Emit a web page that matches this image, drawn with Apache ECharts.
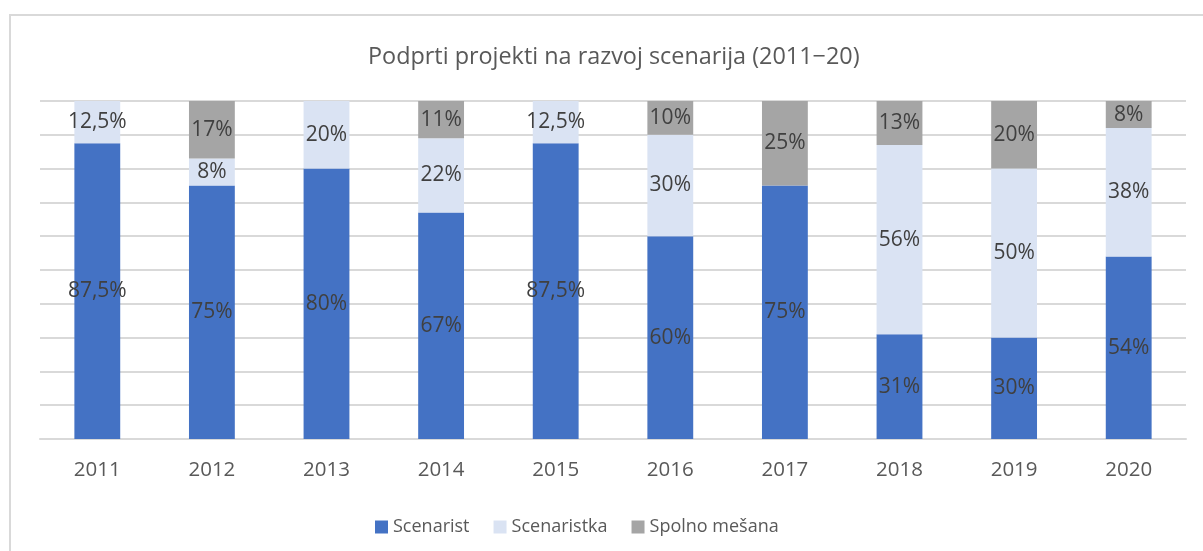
<!DOCTYPE html>
<html><head><meta charset="utf-8">
<script src="https://cdn.jsdelivr.net/npm/echarts@6/dist/echarts.min.js"></script>
<style>html,body{margin:0;padding:0;background:#fff;}#c{width:1203px;height:551px;}</style>
</head><body><div id="c"></div>
<script>
const title = 'Podprti projekti na razvoj scenarija (2011\u221220)';
const years = ['2011','2012','2013','2014','2015','2016','2017','2018','2019','2020'];
const scenarist = [87.5, 75, 80, 67, 87.5, 60, 75, 31, 30, 54];
const scenaristka = [12.5, 8, 20, 22, 12.5, 30, 0, 56, 50, 38];
const spolnoMesana = [0, 17, 0, 11, 0, 10, 25, 13, 20, 8];
const seriesNames = ['Scenarist', 'Scenaristka', 'Spolno mešana'];
const colors = ['#4472C4', '#DAE3F3', '#A5A5A5'];
const FONT = 'Open Sans';

const lbl = {
  show: true, position: 'inside', color: '#404040', fontFamily: FONT, fontSize: 21,
  formatter: p => p.value ? String(p.value).replace('.', ',') + '%' : ''
};
const chart = echarts.init(document.getElementById('c'));
chart.setOption({
  animation: false,
  color: colors,
  title: { text: title, left: 363, top: 41,
    textStyle: { fontFamily: FONT, fontSize: 23.4, fontWeight: 'normal', color: '#595959' } },
  graphic: [{ type: 'rect', shape: { x: 10, y: 15, width: 1300, height: 700 }, style: { fill: 'none', stroke: '#d9d9d9', lineWidth: 2 }, silent: true }],
  legend: { bottom: 10, left: 370, itemWidth: 13, itemHeight: 13, itemGap: 24, icon: 'rect',
    textStyle: { fontFamily: FONT, fontSize: 18, color: '#595959' }, data: seriesNames },
  grid: { left: 40, right: 17, top: 101, bottom: 112, containLabel: false },
  xAxis: { type: 'category', data: years, axisTick: { show: false },
    axisLine: { lineStyle: { color: '#d9d9d9', width: 2 } },
    axisLabel: { margin: 21, fontFamily: FONT, fontSize: 20.5, color: '#595959' } },
  yAxis: { type: 'value', min: 0, max: 100, interval: 10, axisLabel: { show: false },
    splitLine: { lineStyle: { color: '#d9d9d9', width: 2 } } },
  series: [
    { name: seriesNames[0], type: 'bar', stack: 's', data: scenarist, barWidth: '40%', label: lbl },
    { name: seriesNames[1], type: 'bar', stack: 's', data: scenaristka, label: lbl },
    { name: seriesNames[2], type: 'bar', stack: 's', data: spolnoMesana, label: lbl }
  ]
});
</script></body></html>
